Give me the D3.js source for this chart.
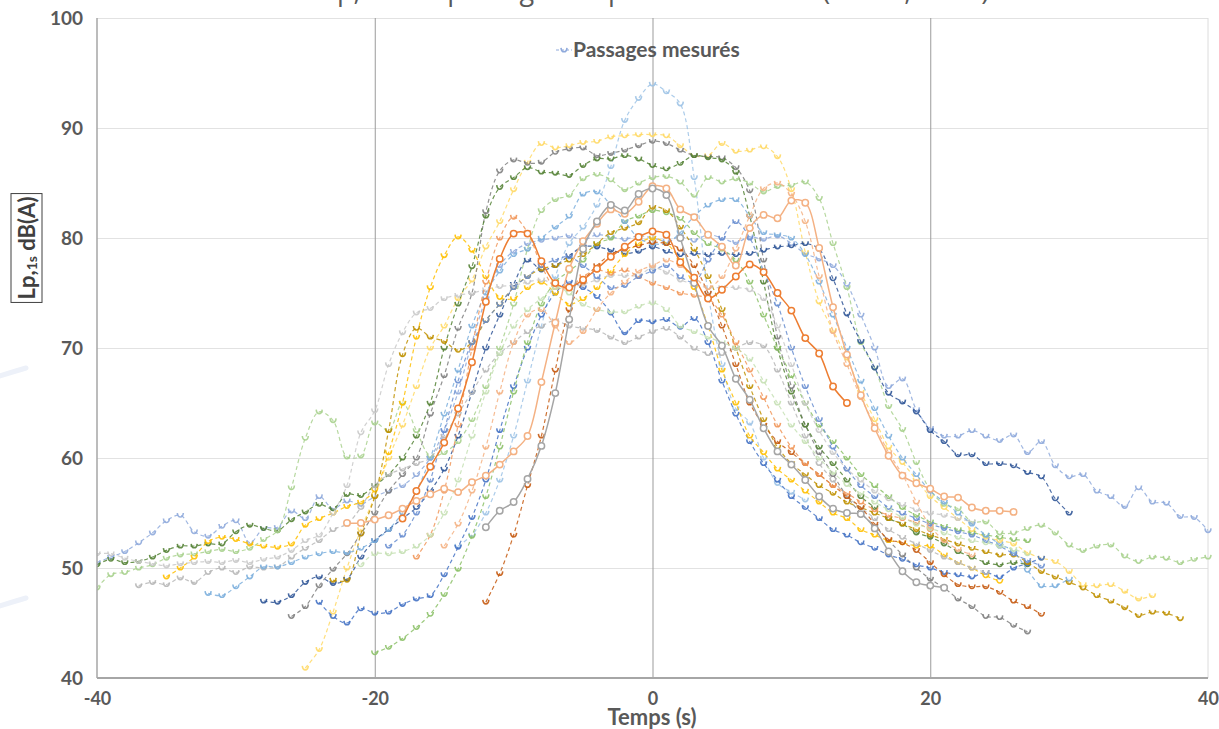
<!DOCTYPE html>
<html>
<head>
<meta charset="utf-8">
<script src="https://cdn.jsdelivr.net/npm/d3@7"></script>
<style>
body{margin:0;background:#fff;}
svg{display:block;font-family:Lato,'Open Sans',sans-serif;}
</style>
</head>
<body>
<div id="container"></div>
<script>
// axis ticks
var xTicks = [-40,-20,0,20,40];
var yTicks = [40,50,60,70,80,90,100];

// Lp,1s values per passage, one value per second from its start time
var p01 = [50.5,51,51.5,52.3,53.2,54.3,54.8,53.3,52.9,53.8,54.3,52.3,53.6,53.7,55.2,54.5,56.5,55.4,56.1,
  55.8,56.5,57,57.5,58.5,60,62.5,66,70.5,74.5,77.5,78.8,79.5,79.8,80,
  80.2,79.8,80.3,80.1,79.9,80.2,80,
  79.7,80.1,79.8,80.3,80,79.6,80.1,79.9,80.2,79.5,78.6,78.1,
  77.5,75.8,73,70,66.5,67.2,64.4,62.7,62,62,62.5,62,61.6,62.1,60.5,61.5,59.3,58.3,58.5,57,56.5,55.6,57.3,56,55.9,54.7,54.6,53.4];
var p02 = [54.5,57,59.2,61.4,64.5,68.7,74.2,78.1,80.4,80.4,77.9,75.9,75.5,76.2,77.2,78.3,79.2,80.1,80.6,
  80.3,77.8,76.4,74.5,75.3,76.5,77.6,76.9,75,73.4,70.9,69.5,66.5,65];
var p03 = [53.7,55.2,56,58.1,61.1,65.9,72.6,79,81.5,83,82.5,84,84.5,
  83.9,80,75.9,72,70.2,67.2,65.3,62.7,60.6,59.4,58,56.5,55.4,55,54.9,53.6,51.5,49.7,48.7,48.4,48.2];
var p04 = [54.1,54.1,54.4,54.8,55.4,56.1,56.7,57.2,56.9,57.8,58.4,59.4,60.6,62,66.9,72.3,77.2,79.7,81.3,82.6,82.2,83.3,84.7,
  84.5,82.6,81.9,80.3,79.2,77.5,80.9,82.1,81.8,83.4,83.2,79.1,73.7,69.4,65.7,62.7,60.2,58.4,57.7,57.2,56.5,56.4,55.5,55.2,55.2,55.1];
var p05 = [52,53,55,58,62,67,72,76.5,79.5,81,83,86.5,90.7,92.7,94,93.3,92.2,85.5,75,68.5,64.5,63.2,60,57.7,56.9,56.2];
var p06 = [40.9,42.6,46,50,53.5,56.5,60,63,66.5,70,72,74.5,76.2,79.2,81.5,84.4,86.9,88.6,88.2,88.4,88.7,88.8,89.2,89.3,89.4,89.4,
  89.3,88.4,87.5,87.5,88.6,87.9,88,88.3,87.4,84.4,78.7,74.2,71.6,69.1,66,63.5,61,59.6,58,56.5,55.5,54.5,53.5,52.8,52.5,52.2,51.4,50.9,50.6,49.7,48.5,48.4,48.5,47.9,47.2,47.5];
var p07 = [45.6,46.5,48.4,49.9,51.3,53.1,55,57,58.5,60,64,67.5,71.8,75,82.4,86.1,87.1,86.8,86.9,87.8,88.1,88.2,87.5,87.7,88,88.4,88.8,
  88.6,88,87.5,87.4,87.3,86.4,84.3,78,71,66.5,63,60.5,58.5,56.5,55,53.8,52.5,51.2,50,49,48.2,47.2,46.5,45.6,45.5,44.8,44.2];
var p08 = [50.3,50.8,50.5,50.6,51,51.6,52,52,52.2,52.2,53.3,53.9,53.6,53.4,54.4,55.1,55.8,55.4,56.7,56.6,57.5,
  58.5,60,62,65,70,74,77.4,82,84.6,85.5,86.4,86,85.9,85.7,86.6,87.2,87.2,87.5,87.2,86.6,
  86.3,86.8,87.5,87.3,87.1,86,82,76,70,66,63,61,59.5,58,56.5,55.5,54.5,54,53.2,52.8,52.2,51.5,51,50.5,50.3,50.5,50.3];
var p09 = [48.2,49.4,49.6,50,50.3,50.9,51.2,51.3,51.5,51.7,51.5,51.8,52.6,53.4,
  57.3,61.8,64.2,63.4,60.1,60.2,63.2,62.5,65,62.5,60.2,
  60.5,61.5,63.5,66.5,70,74,79,82.5,83.5,83.9,85.4,85.8,85.3,84.4,85,85.5,
  85.6,85.1,83.9,85.5,85.1,85.4,85,84.2,84.7,84.8,85.1,83.6,79.5,75.5,70.5,68.2,64.7,62.6,59.6,57.1,
  55.8,55.4,54.2,54.2,53.2,53.2,53.6,53.9,53.2,52.1,51.6,52,52.1,51.1,50.6,51,50.9,50.5,50.8,51];
var p10 = [47,46.9,47.5,48.7,49.2,48.6,49,51,52.5,53.5,54.5,55.5,57,59,62,66,70,73,75.8,78,77.1,77.5,78.4,79.2,79.2,78.9,78.6,78.8,79.2,
  78.8,78.5,78.6,78.5,78.6,78.5,78.6,78.9,79.2,79.3,79.5,79,76.3,73.1,70.6,68.2,65.9,65.1,64.2,62.5,61.5,60.3,60.3,59.5,59.5,59.3,58.7,58.3,56.3,55];
var p11 = [46.9,45.6,45,46.3,45.9,46,46.7,47.2,47.5,49.4,51.9,54.6,58,62.5,66.5,70,73,75,76,75.5,74.7,73.2,71.4,72.5,72.4,
  72.6,71.9,72.7,70.5,67,64,61.5,59.5,58,56.5,55.5,54.5,53.5,53,52.3,51.8,51.2,50.8,50.3,50,49.6,49.4,49.2,49.6,49.2,50,50.4,50.9];
var p12 = [42.3,42.8,43.6,44.6,45.8,47.6,49.9,52.9,56.5,61,66,70.5,74,76,77,78,79.5,80,81.5,82,82.5,
  82.3,81.8,80.5,79.5,79,78,76,73,70,67.5,65,63,61.5,60,58.5,57.5,56.5,55.5,54.8,54.2,53.8,53.5,53.2,53,52.8,52.6,52.5];
var p13 = [49.2,50,51,52.4,52.8,52.6,52.2,52,51.9,52.2,53.9,54.5,55,55.6,56,57.1,
  60.5,65,71,75.5,78.4,80.1,78.9,76.5,74.6,74.5,75.5,76,75,74,74.5,75.5,77,78.5,79.5,80,
  79.5,78,75.5,72,68,65,62,60.5,59,58,57,56,55,54.5,53.5,53,52.5,52.3,52,52,51.2,50.5,50,49.3,48.8];
var p14 = [48.9,48.9,53.1,56.5,62.5,69.4,71.8,71,70.6,69.8,70.5,72.5,74,75.5,76.5,77.2,77.5,78,78.5,79.5,80.5,80.9,81.4,82.8,
  82.5,81,79,76.5,73.5,70,66.5,63.5,61,59.5,58.5,57.5,56.8,56,55.5,55,54.5,54,53.5,53,52.6,52.2,51.8,51.5,51.2,
  51.2,50.5,49.7,49.2,48.7,48.2,47.5,47,46.4,45.7,46,45.9,45.4];
var p15 = [51.3,51.3,50.9,50.6,50.4,50.2,50.4,50.5,50.6,50.5,50.7,50.5,50.8,51,51.6,52.5,53,55,57.5,62.3,64.3,
  68.5,71.4,73.2,73.6,74.5,74.8,75,75.3,75.6,75.7,76,76.2,75.8,75.5,75.8,76.2,76.6,76.6,76.6,77.3,
  76.9,76.2,75.8,75.5,75.5,75.5,75.3,74.5,72,68.5,65,62.5,60.5,59,58,57,56.3,55.8,55.3,55,54.8,54.5,54.2];
var p16 = [48.4,48.7,48.5,49.1,48.7,49.6,50,49.6,50.1,50,50.1,51,51.8,52.5,53.5,54,55.5,57.5,58.5,59,59.5,
  60,62,64,66,68,69.5,70.5,71.5,72,72.5,72,71.8,71.6,71,70.5,71,71.5,
  71.8,71,70,69.5,69.5,70,70.5,70.2,68,65,62,59.5,58,56.5,55.5,54.5,53.5,52.8,52.2,51.6,51,50.5,50,49.6];
var p17 = [47.7,47.5,48.3,49.2,50.1,50.1,50.5,51,51.3,51.5,51.4,51.8,52.5,53.5,55,57,60,64,68,72,75,77,78.5,79,80,81,82,84,84.2,83,81.5,80,79.5,
  79.5,80.5,82,83,83.5,83.5,82,80.5,80.3,80,78.5,76,73,70,67,64.5,62,60,58.5,57,56,55,54,53,52.2,51.5,49.8,48.4,48.4,49];
var p18 = [46.9,49.5,53,57.5,62,68,73.5,76,77.5,78.5,79,79.3,79.6,
  79.5,79,77.5,75,72,68.5,65,63,61.5,60.5,59.5,58.5,57.5,56.5,55.5,54,52.6,52.3,51.6,50.5,49.4,48.5,48.3,48.3,47.8,47,46.5,45.8];
var p19 = [51,53,57,63,70,76,80,81.9,80.5,77.5,75.5,75.5,76.5,77.1,76.8,77.1,76.5,75.9,
  75.5,75,74.8,74.5,73,70.5,68,65.5,63,61,59.5,58.5,57.5,56.8,56,55.3,54.8,54.5,54.1,53.5];
var p20 = [52,53,55,58,62.5,67,70.5,72.5,74,75.5,76.5,77.5,78,78.3,77.5,76.5,75.5,75.7,76.5,77,
  77.5,76.5,76,78,80,81.5,80,77,74,70,66.5,63.5,61,59,57.5,56.5,55.5,55,54.5,54,53.6,53.3,53,52.5,52,51.3,50.7,50.2];
var p21 = [50.3,51.3,51.3,51.5,52,53,55,58,62,66,69.5,72,73.5,74.5,75.5,75,74,73.5,73.3,73.3,73.8,74.1,
  73.5,72,71.5,71,70.5,70,69,67,65,63,61.5,60,58.7,57.6,56.8,56,55.3,54.6,54,53.6,53.2,52.8,52.5,52.3,52,51.7,51.3];
var p22 = [52,54,57,61,66,70.5,73,73.5,72,70.5,71.5,73.5,75,76,77,77.5,
  78,77.5,76.5,75.5,76.5,79,82,84.5,85,84,81.5,76.5,71.5,68.5,65.5,63,60.5,58.5,56,53.8,52.5,51.7,51.2];

// drawing order (dashed first, solid last) and start time of each passage
var passages = [p01,p05,p06,p07,p08,p09,p10,p11,p12,p13,p14,p15,p16,p17,p18,p19,p20,p21,p22,p04,p03,p02];
var starts   = [-40,-14,-25,-26,-40,-40,-28,-24,-20,-35,-23,-40,-37,-32,-12,-17,-19,-21,-15,-22,-12,-18];

var colors = ['#8FAADC','#9DC3E6','#FFD966','#7F7F7F','#548235','#A9D18E','#2F5597','#4472C4','#8CC168','#FFC000','#BF9000',
  '#C9C9C9','#B7B7B7','#7CAFDD','#C55A11','#F1975A','#698ED0','#C5E0B4','#F4B183','#F4B183','#A5A5A5','#ED7D31'];
var solid = [false,false,false,false,false,false,false,false,false,false,false,false,false,false,false,false,false,false,false,true,true,true];

var W = 1219, H = 729;
var pLeft = 97, pRight = 1208, pTop = 18, pBottom = 678;
var textCol = '#595959';

var svg = d3.select('#container').append('svg').attr('width',W).attr('height',H);

var x = d3.scaleLinear().domain([-40,40]).range([pLeft,pRight]);
var y = d3.scaleLinear().domain([40,100]).range([pBottom,pTop]);

// faint decoration at left edge
svg.append('path').attr('d','M0,376 Q12,372 26,368').attr('fill','none').attr('stroke','#edf1f9').attr('stroke-width',5).attr('stroke-linecap','round');
svg.append('path').attr('d','M0,606 Q12,602 26,598').attr('fill','none').attr('stroke','#edf1f9').attr('stroke-width',5).attr('stroke-linecap','round');

// title (cut at top of the image)
svg.append('text').attr('x',656).attr('y',0).attr('text-anchor','middle')
  .attr('font-family','"Open Sans",sans-serif').attr('font-size',27).attr('fill',textCol)
  .text('Lp,1s des passages au point de mesure (voie 1, 25 m)');

// horizontal gridlines
svg.append('g').attr('transform','translate('+pLeft+',0)')
  .call(d3.axisLeft(y).tickValues(yTicks.slice(1)).tickSize(-(pRight-pLeft)).tickFormat(''))
  .call(function(g){
    g.select('.domain').remove();
    g.selectAll('line').attr('stroke','#e2e2e2').attr('stroke-width',1);
  });

// vertical lines at -20, 0, 20 and right border
svg.append('g').attr('transform','translate(0,'+pBottom+')')
  .call(d3.axisBottom(x).tickValues([-20,0,20]).tickSize(-(pBottom-pTop)).tickFormat(''))
  .call(function(g){
    g.select('.domain').remove();
    g.selectAll('line').attr('stroke','#9b9b9b').attr('stroke-width',1);
  });
svg.append('line').attr('x1',x(40)).attr('x2',x(40)).attr('y1',pTop).attr('y2',pBottom)
  .attr('stroke','#dcdcdc').attr('stroke-width',1);

// clip
svg.append('clipPath').attr('id','plot').append('rect')
  .attr('x',pLeft).attr('y',pTop-4).attr('width',pRight-pLeft+4).attr('height',pBottom-pTop+4);

var line = d3.line()
  .x(function(d){ return x(d.t); })
  .y(function(d){ return y(d.v); })
  .curve(d3.curveCatmullRom.alpha(0.5));

var cup = 'M-3,-2.2 Q-2.6,1.8 0,1.8 Q2.6,1.8 3,-2.2';

var plot = svg.append('g').attr('clip-path','url(#plot)');

passages.forEach(function(vals,i){
  var pts = vals.map(function(v,j){ return {t:starts[i]+j, v:v}; });
  var g = plot.append('g').attr('class','passage');
  g.append('path').datum(pts)
    .attr('d',line)
    .attr('fill','none')
    .attr('stroke',colors[i])
    .attr('stroke-width',solid[i] ? 1.5 : 1.2)
    .attr('stroke-dasharray',solid[i] ? null : '4,3')
    .attr('opacity',solid[i] ? 1 : 0.85);

  if(solid[i]){
    g.selectAll('circle').data(pts).enter().append('circle')
      .attr('cx',function(d){ return x(d.t); })
      .attr('cy',function(d){ return y(d.v); })
      .attr('r',3.2)
      .attr('fill','#fff')
      .attr('stroke',colors[i])
      .attr('stroke-width',1.5);
  } else {
    g.selectAll('path.mk').data(pts).enter().append('path')
      .attr('class','mk')
      .attr('d',cup)
      .attr('transform',function(d){ return 'translate('+x(d.t)+','+y(d.v)+')'; })
      .attr('fill','none')
      .attr('stroke',colors[i])
      .attr('stroke-width',1.6)
      .attr('opacity',0.9);
  }
});

// axis lines
svg.append('line').attr('x1',pLeft).attr('x2',pLeft).attr('y1',pTop).attr('y2',pBottom)
  .attr('stroke','#a6a6a6').attr('stroke-width',1.5);
svg.append('line').attr('x1',pLeft).attr('x2',pRight).attr('y1',pBottom).attr('y2',pBottom)
  .attr('stroke','#a6a6a6').attr('stroke-width',2);

// tick labels
var plain = function(d){ return String(d); };
svg.append('g').attr('transform','translate('+pLeft+',0)')
  .call(d3.axisLeft(y).tickValues(yTicks).tickSize(0).tickPadding(14).tickFormat(plain))
  .call(function(g){
    g.select('.domain').remove();
    g.selectAll('text').attr('font-family','Lato,sans-serif').attr('font-weight','bold')
      .attr('font-size',19).attr('fill',textCol);
  });
svg.append('g').attr('transform','translate(0,'+pBottom+')')
  .call(d3.axisBottom(x).tickValues(xTicks).tickSize(0).tickPadding(14).tickFormat(plain))
  .call(function(g){
    g.select('.domain').remove();
    g.selectAll('text').attr('font-family','Lato,sans-serif').attr('font-weight','bold')
      .attr('font-size',18).attr('fill',textCol);
  });

// axis titles
svg.append('text').attr('x',652).attr('y',725).attr('text-anchor','middle')
  .attr('font-family','Lato,sans-serif').attr('font-weight','bold').attr('font-size',22).attr('fill',textCol)
  .text('Temps (s)');

var yl = svg.append('g').attr('transform','translate(35,248) rotate(-90)');
var ylt = yl.append('text').attr('text-anchor','middle')
  .attr('font-family','Lato,sans-serif').attr('font-weight','bold').attr('font-size',22).attr('fill','#404040');
ylt.append('tspan').text('Lp,');
ylt.append('tspan').attr('font-size',14).attr('dy',2).text('1s');
ylt.append('tspan').attr('dy',-2).text(' dB(A)');
var bb = ylt.node().getBBox();
yl.insert('rect','text').attr('x',bb.x-3).attr('y',bb.y-2).attr('width',bb.width+6).attr('height',bb.height+4)
  .attr('fill','#fff').attr('stroke','#404040').attr('stroke-width',1);

// legend
var lg = svg.append('g').attr('transform','translate(556,50)');
lg.append('line').attr('x1',0).attr('x2',16).attr('y1',0).attr('y2',0)
  .attr('stroke','#8FAADC').attr('stroke-width',1.2).attr('stroke-dasharray','3,2');
lg.append('path').attr('d',cup).attr('transform','translate(8,0)').attr('fill','none')
  .attr('stroke','#8FAADC').attr('stroke-width',1.6);
lg.append('text').attr('x',17).attr('y',7)
  .attr('font-family','Lato,sans-serif').attr('font-weight','bold').attr('font-size',21).attr('fill',textCol)
  .text('Passages mesurés');
</script>
</body>
</html>
